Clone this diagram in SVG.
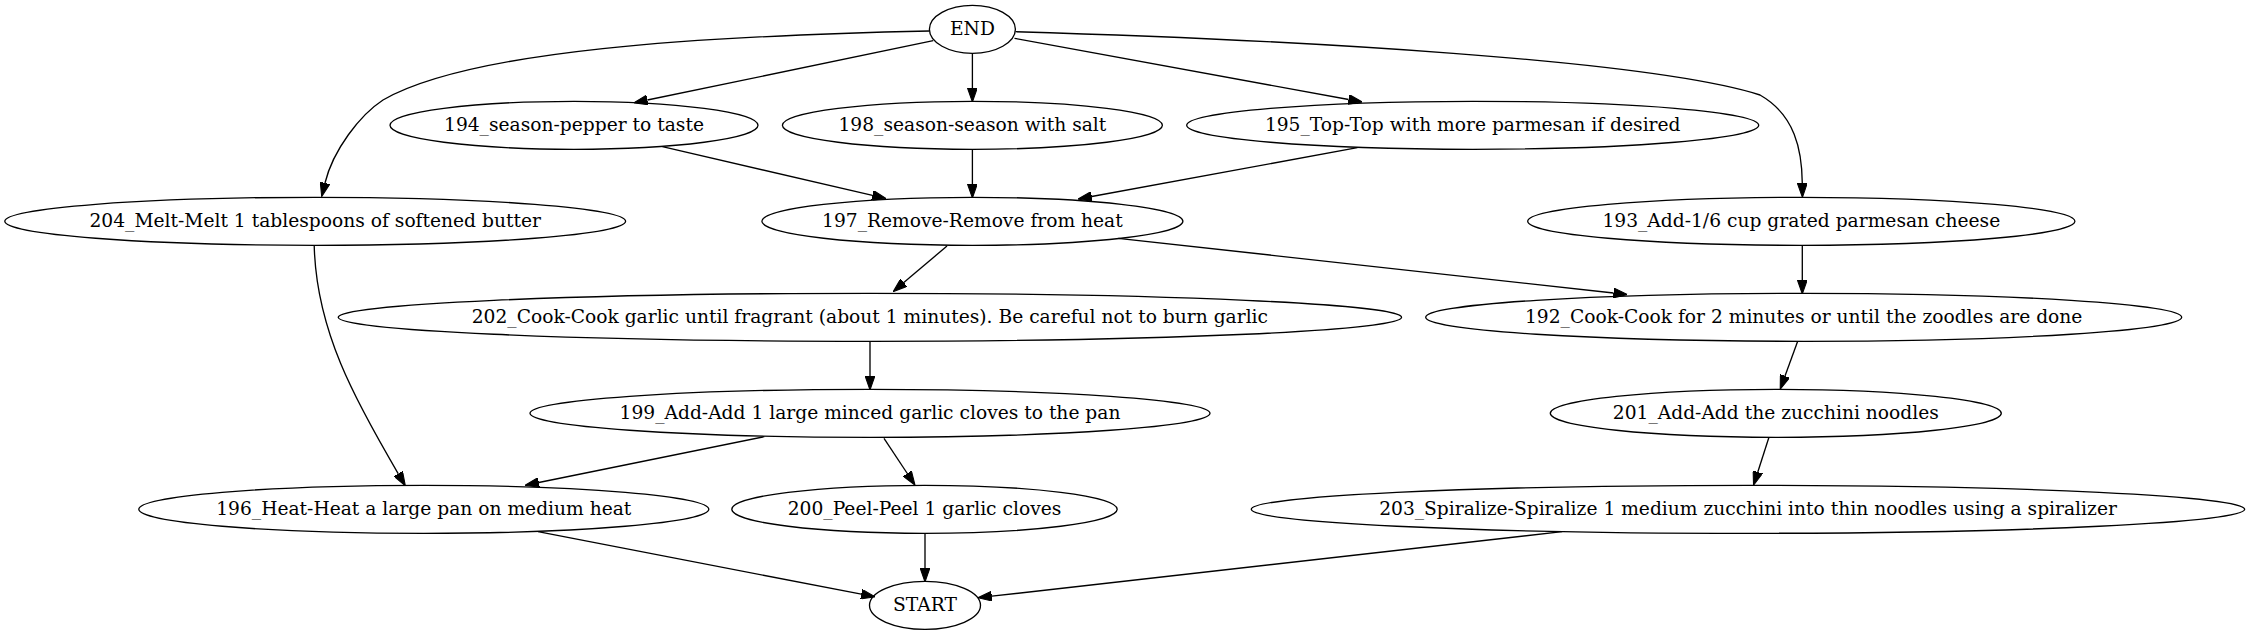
<svg xmlns="http://www.w3.org/2000/svg" width="2249" height="635" viewBox="0 0 2249 635">
<style>
.n ellipse{fill:none;stroke:#000;stroke-width:1.33}
.n text{font-family:"DejaVu Serif","Liberation Serif",serif;font-size:18.67px;text-anchor:middle;fill:#000}
.e path{fill:none;stroke:#000;stroke-width:1.33;marker-end:url(#ah)}
</style>
<defs>
<marker id="ah" markerUnits="userSpaceOnUse" markerWidth="14" markerHeight="10" viewBox="0 0 13.33 9.33" refX="0" refY="4.67" orient="auto">
<path d="M0,0 L13.33,4.67 L0,9.33 z" fill="#000" stroke="#000" stroke-width="1"/>
</marker>
</defs>
<rect width="2249" height="635" fill="#fff"/>
<g id="edges" class="e">
<path d="M933.2,40.7 L647.4,100"/>
<path d="M972.4,53.3 L972.4,88"/>
<path d="M1014.5,38.3 L1348.6,99.5"/>
<path d="M929.4,31 C700,36 470,50 383,100 C360,115 333,150 325,183"/>
<path d="M1015.5,31.7 C1300,40 1650,60 1760,95 C1795,115 1802,150 1802.3,183.4"/>
<path d="M662.4,146.7 L872.5,195.3"/>
<path d="M972.4,149.3 L972.4,184"/>
<path d="M1357.4,147.7 L1091.7,196.5"/>
<path d="M947,246 L903.8,282.6"/>
<path d="M1118.3,238.3 L1613.5,293"/>
<path d="M1802.3,245 L1802.3,280"/>
<path d="M870,341.3 L870,376"/>
<path d="M1797.5,341.7 L1785,376"/>
<path d="M764.3,436.7 L538.8,482.5"/>
<path d="M884,438.3 L907.3,473.5"/>
<path d="M314.2,245 C316,330 355,400 398.3,473.8"/>
<path d="M1768.8,437.7 L1757.8,472"/>
<path d="M538,531.7 L861.3,594.2"/>
<path d="M925,533.3 L925,568"/>
<path d="M1562.2,531.7 L991.8,596.2"/>
</g>
<g id="END" class="n"><ellipse cx="972.4" cy="29.3" rx="43" ry="24"/><text x="972.4" y="34.8">END</text></g>
<g id="n194" class="n"><ellipse cx="574" cy="125.3" rx="184" ry="24"/><text x="574" y="130.8">194_season-pepper to taste</text></g>
<g id="n198" class="n"><ellipse cx="972.4" cy="125.3" rx="190" ry="24"/><text x="972.4" y="130.8">198_season-season with salt</text></g>
<g id="n195" class="n"><ellipse cx="1472.7" cy="125.3" rx="286" ry="24"/><text x="1472.7" y="130.8">195_Top-Top with more parmesan if desired</text></g>
<g id="n204" class="n"><ellipse cx="315.2" cy="221.3" rx="310.4" ry="24"/><text x="315.2" y="226.8">204_Melt-Melt 1 tablespoons of softened butter</text></g>
<g id="n197" class="n"><ellipse cx="972.4" cy="221.3" rx="210.5" ry="24"/><text x="972.4" y="226.8">197_Remove-Remove from heat</text></g>
<g id="n193" class="n"><ellipse cx="1801.3" cy="221.3" rx="273.6" ry="24"/><text x="1801.3" y="226.8">193_Add-1/6 cup grated parmesan cheese</text></g>
<g id="n202" class="n"><ellipse cx="869.9" cy="317.3" rx="531.7" ry="24"/><text x="869.9" y="322.8">202_Cook-Cook garlic until fragrant (about 1 minutes). Be careful not to burn garlic</text></g>
<g id="n192" class="n"><ellipse cx="1803.7" cy="317.3" rx="378" ry="24"/><text x="1803.7" y="322.8">192_Cook-Cook for 2 minutes or until the zoodles are done</text></g>
<g id="n199" class="n"><ellipse cx="870" cy="413.3" rx="340" ry="24"/><text x="870" y="418.8">199_Add-Add 1 large minced garlic cloves to the pan</text></g>
<g id="n201" class="n"><ellipse cx="1775.8" cy="413.3" rx="225.5" ry="24"/><text x="1775.8" y="418.8">201_Add-Add the zucchini noodles</text></g>
<g id="n196" class="n"><ellipse cx="423.8" cy="509.3" rx="285" ry="24"/><text x="423.8" y="514.8">196_Heat-Heat a large pan on medium heat</text></g>
<g id="n200" class="n"><ellipse cx="924.5" cy="509.3" rx="192.7" ry="24"/><text x="924.5" y="514.8">200_Peel-Peel 1 garlic cloves</text></g>
<g id="n203" class="n"><ellipse cx="1748" cy="509.3" rx="496.7" ry="24"/><text x="1748" y="514.8">203_Spiralize-Spiralize 1 medium zucchini into thin noodles using a spiralizer</text></g>
<g id="START" class="n"><ellipse cx="925" cy="605.3" rx="55.5" ry="24"/><text x="925" y="610.8">START</text></g>
</svg>
